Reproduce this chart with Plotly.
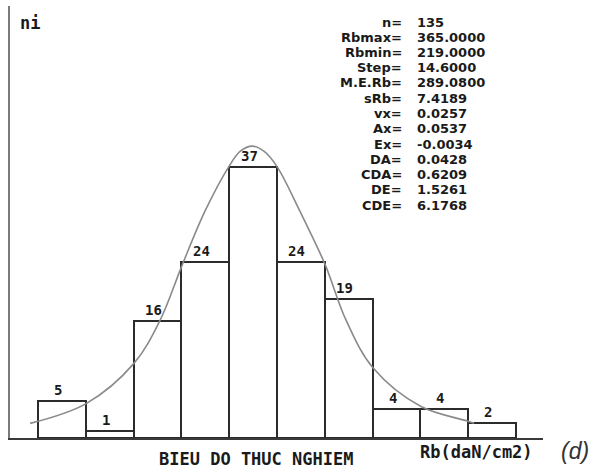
import plotly.graph_objects as go

# ---- data ----
rb_min = 219.0
step = 14.6
counts = [5, 1, 16, 24, 37, 24, 19, 4, 4, 2]
bin_centers = [rb_min + step * (i + 0.5) for i in range(len(counts))]

# fitted curve, points (Rb, ni)
curve_x = [216.6, 233.7, 248.3, 256.3, 263.0, 270.0, 277.3, 280.8, 284.4,
           288.0, 292.0, 299.0, 306.7, 313.1, 321.3, 336.0, 350.3, 352.2]
curve_y = [2.0, 4.7, 10.2, 16.1, 23.6, 31.0, 37.1, 39.2, 39.9,
           39.2, 37.1, 31.0, 23.7, 16.1, 9.6, 4.3, 2.3, 2.0]

stat_labels = ["n=", "Rbmax=", "Rbmin=", "Step=", "M.E.Rb=", "sRb=", "vx=",
               "Ax=", "Ex=", "DA=", "CDA=", "DE=", "CDE="]
stat_values = ["135", "365.0000", "219.0000", "14.6000", "289.0800", "7.4189",
               "0.0257", "0.0537", "-0.0034", "0.0428", "0.6209", "1.5261",
               "6.1768"]

# ---- layout geometry (pixels) ----
W, H = 610, 470
L, R, T, B = 10, 67, 6, 32
PW, PH = W - L - R, H - T - B


def xp(px):
    return (px - L) / PW


def yp(py):
    return (H - B - py) / PH


MONO = "DejaVu Sans Mono"
SANS = "DejaVu Sans"
INK = "#1a1a1a"

fig = go.Figure()
fig.add_trace(go.Bar(
    x=bin_centers, y=counts, width=step,
    marker=dict(color="white", line=dict(color="#2b2b2b", width=2)),
    hoverinfo="skip",
))
fig.add_trace(go.Scatter(
    x=curve_x, y=curve_y, mode="lines",
    line=dict(color="#8a8a8a", width=1.6, shape="spline", smoothing=1.0),
    hoverinfo="skip",
))

ann = []
for xc, v in zip(bin_centers, counts):
    ann.append(dict(x=xc, y=v, xref="x", yref="y", text=str(v), showarrow=False,
                    yanchor="bottom", xanchor="center", xshift=-4, yshift=1,
                    font=dict(family=MONO, size=14, color=INK, weight="bold")))

row0, dy = 22.0, 15.25
for i, (lab, val) in enumerate(zip(stat_labels, stat_values)):
    py = row0 + i * dy
    ann.append(dict(x=xp(403), y=yp(py), xref="paper", yref="paper", text=lab,
                    showarrow=False, xanchor="right", yanchor="middle",
                    borderpad=0,
                    font=dict(family=SANS, size=13, color=INK, weight="bold")))
    ann.append(dict(x=xp(416), y=yp(py), xref="paper", yref="paper", text=val,
                    showarrow=False, xanchor="left", yanchor="middle",
                    borderpad=0,
                    font=dict(family=SANS, size=13, color=INK, weight="bold")))

ann.append(dict(x=xp(18), y=yp(23), xref="paper", yref="paper", text="ni",
                showarrow=False, xanchor="left", yanchor="middle",
                font=dict(family=MONO, size=17, color=INK, weight="bold")))
ann.append(dict(x=xp(476), y=yp(452), xref="paper", yref="paper",
                text="Rb(daN/cm2)", showarrow=False, xanchor="center",
                yanchor="middle",
                font=dict(family=MONO, size=17, color=INK, weight="bold")))
ann.append(dict(x=xp(255.5), y=yp(470), xref="paper", yref="paper",
                text="BIEU DO THUC NGHIEM", showarrow=False, xanchor="center",
                yanchor="bottom", borderpad=0,
                font=dict(family=MONO, size=17, color=INK, weight="bold")))
ann.append(dict(x=xp(575), y=yp(451), xref="paper", yref="paper",
                text="<i>(d)</i>", showarrow=False, xanchor="center",
                yanchor="middle",
                font=dict(family="Liberation Sans", size=23, color="#333333")))

x_lo = rb_min - (38 - L) / 3.274
x_hi = x_lo + PW / 3.274
y_hi = PH / 7.316

fig.update_layout(
    width=W, height=H,
    margin=dict(l=L, r=R, t=T, b=B),
    paper_bgcolor="white", plot_bgcolor="white",
    showlegend=False,
    bargap=0,
    annotations=ann,
    xaxis=dict(range=[x_lo, x_hi], showgrid=False, zeroline=False,
               showticklabels=False, ticks="", showline=True,
               linecolor="#3a3a3a", linewidth=2),
    yaxis=dict(range=[0, y_hi], showgrid=False, zeroline=False,
               showticklabels=False, ticks="", showline=True,
               linecolor="#7a7a7a", linewidth=2),
)

fig.write_html("out.html")
